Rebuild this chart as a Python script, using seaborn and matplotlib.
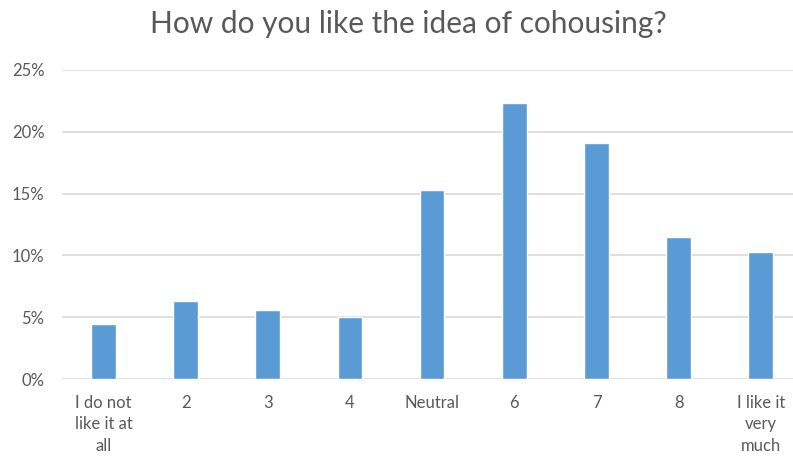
import matplotlib
matplotlib.use("Agg")
import matplotlib.pyplot as plt
import seaborn as sns
import pandas as pd
from matplotlib.ticker import FuncFormatter

# data
categories = ["I do not\nlike it at\nall", "2", "3", "4", "Neutral", "6", "7", "8", "I like it\nvery\nmuch"]
shares = [4.5, 6.3, 5.6, 5.05, 15.3, 22.3, 19.05, 11.5, 10.25]
y_ticks = [0, 5, 10, 15, 20, 25]

sns.set_theme(style="white")
plt.rcParams['font.family'] = ['Lato', 'DejaVu Sans']

df = pd.DataFrame({"cat": categories, "share": shares})

fig = plt.figure(figsize=(7.93, 4.67), dpi=100)
ax = fig.add_axes([62.4 / 793, (467 - 379.3) / 467, 739.5 / 793, 309.6 / 467])

sns.barplot(data=df, x="cat", y="share", color="#5B9BD5", saturation=1, width=0.3, ax=ax)

ax.set_ylim(0, 25)
ax.set_yticks(y_ticks)
ax.yaxis.set_major_formatter(FuncFormatter(lambda v, _: f"{v:.0f}%"))
ax.grid(axis="y", color="#d9d9d9", linewidth=1.2)
ax.set_axisbelow(True)
for s in ax.spines.values():
    s.set_visible(False)

ax.tick_params(axis="both", length=0, colors="#595959", labelsize=12)
ax.tick_params(axis="y", pad=13)
ax.tick_params(axis="x", pad=11)
for lab in ax.get_xticklabels():
    lab.set_linespacing(1.45)
ax.set_xlabel("")
ax.set_ylabel("")

fig.text(408 / 793, 1 - 24 / 467, "How do you like the idea of cohousing?",
         ha="center", va="center", fontsize=21.5, color="#595959")

fig.savefig("out.png", dpi=100)
